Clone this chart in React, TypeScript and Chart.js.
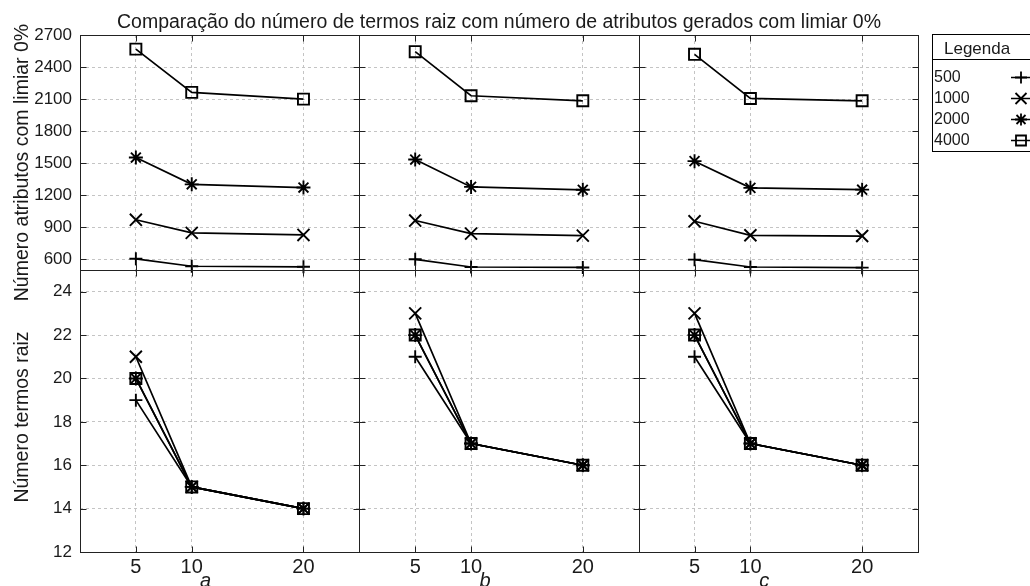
import React, { useEffect, useRef } from 'react';
import { Chart, registerables } from 'chart.js';

Chart.register(...registerables);

// ---- data ----
const xValues = [5, 10, 20];
const xTickValues = [5, 10, 20];
const seriesLabels = ['500', '1000', '2000', '4000'];
const panelLabels = ['a', 'b', 'c'];
const topTicks = [600, 900, 1200, 1500, 1800, 2100, 2400, 2700];
const bottomTicks = [12, 14, 16, 18, 20, 22, 24];

// Número atributos com limiar 0%  (top row)
const attrA500 = [605, 535, 530];
const attrA1000 = [970, 848, 828];
const attrA2000 = [1553, 1302, 1272];
const attrA4000 = [2568, 2163, 2100];

const attrB500 = [600, 528, 524];
const attrB1000 = [963, 841, 822];
const attrB2000 = [1534, 1278, 1251];
const attrB4000 = [2544, 2131, 2084];

const attrC500 = [597, 528, 522];
const attrC1000 = [956, 825, 818];
const attrC2000 = [1519, 1269, 1252];
const attrC4000 = [2519, 2106, 2084];

// Número termos raiz (bottom row)
const rootA500 = [19, 15, 14];
const rootA1000 = [21, 15, 14];
const rootA2000 = [20, 15, 14];
const rootA4000 = [20, 15, 14];

const rootB500 = [21, 17, 16];
const rootB1000 = [23, 17, 16];
const rootB2000 = [22, 17, 16];
const rootB4000 = [22, 17, 16];

const rootC500 = [21, 17, 16];
const rootC1000 = [23, 17, 16];
const rootC2000 = [22, 17, 16];
const rootC4000 = [22, 17, 16];

const titleText = 'Comparação do número de termos raiz com número de atributos gerados com limiar 0%';
const topAxisTitle = 'Número atributos com limiar 0%';
const bottomAxisTitle = 'Número termos raiz';
const legendTitle = 'Legenda';

// ---- styles ----
const FONT = '"Liberation Sans", Arial, Helvetica, sans-serif';
const INK = '#1a1a1a';
const pointStyles = ['cross', 'crossRot', 'star', 'rect'];
const pointRadii = [6.5, 8.5, 7, 7.8];

const topRows = [
  [attrA500, attrA1000, attrA2000, attrA4000],
  [attrB500, attrB1000, attrB2000, attrB4000],
  [attrC500, attrC1000, attrC2000, attrC4000],
];
const bottomRows = [
  [rootA500, rootA1000, rootA2000, rootA4000],
  [rootB500, rootB1000, rootB2000, rootB4000],
  [rootC500, rootC1000, rootC2000, rootC4000],
];
const xIds = ['xa', 'xb', 'xc'];

function buildDatasets() {
  const ds: any[] = [];
  const add = (rows: number[][][], yId: string, tag: string) => {
    rows.forEach((panel, p) => {
      panel.forEach((vals, s) => {
        ds.push({
          type: 'line',
          label: `${tag}-${panelLabels[p]}-${seriesLabels[s]}`,
          data: xValues.map((x, i) => ({ x, y: vals[i] })),
          xAxisID: xIds[p],
          yAxisID: yId,
          borderColor: '#000',
          borderWidth: 1.7,
          tension: 0,
          fill: false,
          pointStyle: pointStyles[s],
          pointRadius: pointRadii[s],
          pointBorderWidth: 1.9,
          pointBorderColor: '#000',
          pointBackgroundColor: 'rgba(0,0,0,0)',
          clip: false,
        });
      });
    });
  };
  add(topRows, 'yTop', 'attr');
  add(bottomRows, 'yBot', 'root');
  return ds;
}

function xScale(weight: number) {
  return {
    type: 'linear',
    position: 'bottom',
    stack: 'cols',
    stackWeight: 1,
    weight,
    min: 0,
    max: 25,
    afterBuildTicks: (s: any) => {
      s.ticks = xTickValues.map((v) => ({ value: v }));
    },
    afterFit: (s: any) => {
      s.height = 34;
    },
    grid: { color: '#c4c4c4', lineWidth: 1, drawTicks: false },
    border: { display: false, dash: [3, 3] },
    ticks: {
      font: { family: FONT, size: 20 },
      color: INK,
      padding: 3,
      maxRotation: 0,
      autoSkip: false,
      callback: (v: any) => String(v),
    },
  };
}

function yScale(min: number, max: number, ticks: number[], stackWeight: number, weight: number) {
  return {
    type: 'linear',
    position: 'left',
    stack: 'rows',
    stackWeight,
    weight,
    min,
    max,
    afterBuildTicks: (s: any) => {
      s.ticks = ticks.map((v) => ({ value: v }));
    },
    afterFit: (s: any) => {
      s.width = 80;
    },
    grid: { color: '#c4c4c4', lineWidth: 1, drawTicks: false },
    border: { display: false, dash: [3, 3] },
    ticks: {
      font: { family: FONT, size: 17 },
      color: INK,
      padding: 8,
      autoSkip: false,
      callback: (v: any) => String(v),
    },
  };
}

const decorPlugin = {
  id: 'decor',
  afterDraw(chart: any) {
    const ctx = chart.ctx as CanvasRenderingContext2D;
    const xs = xIds.map((id) => chart.scales[id]);
    const yTop = chart.scales.yTop;
    const yBot = chart.scales.yBot;
    const ys = [
      { s: yTop, ticks: topTicks },
      { s: yBot, ticks: bottomTicks },
    ];
    ctx.save();
    ctx.strokeStyle = '#222';
    ctx.lineWidth = 1;
    const r = (v: number) => Math.round(v) + 0.5;
    const TL = 6;
    // inner tick marks and frames
    xs.forEach((x: any) => {
      ys.forEach(({ s: y, ticks }) => {
        const L = r(x.left), R = r(x.right), T = r(y.top), B = r(y.bottom);
        ctx.beginPath();
        ticks.forEach((v) => {
          const py = r(y.getPixelForValue(v));
          ctx.moveTo(L, py); ctx.lineTo(L + TL, py);
          ctx.moveTo(R, py); ctx.lineTo(R - TL, py);
        });
        xTickValues.forEach((v) => {
          const px = r(x.getPixelForValue(v));
          ctx.moveTo(px, B); ctx.lineTo(px, B - TL);
          ctx.moveTo(px, T); ctx.lineTo(px, T + TL);
        });
        ctx.stroke();
        ctx.strokeRect(L, T, R - L, B - T);
      });
    });

    // main title
    ctx.fillStyle = INK;
    ctx.font = `19.5px ${FONT}`;
    ctx.textAlign = 'center';
    ctx.textBaseline = 'alphabetic';
    const area = chart.chartArea;
    ctx.fillText(titleText, (area.left + area.right) / 2, 28);

    // y axis titles (rotated)
    ctx.font = `19.5px ${FONT}`;
    const drawRot = (text: string, cx: number, cy: number) => {
      ctx.save();
      ctx.translate(cx, cy);
      ctx.rotate(-Math.PI / 2);
      ctx.textAlign = 'center';
      ctx.textBaseline = 'alphabetic';
      ctx.fillText(text, 0, 0);
      ctx.restore();
    };
    drawRot(topAxisTitle, 28, (yTop.top + yTop.bottom) / 2 + 10);
    drawRot(bottomAxisTitle, 28, (yBot.top + yBot.bottom) / 2 + 6);

    // panel sub-labels
    ctx.font = `italic 20px ${FONT}`;
    ctx.textAlign = 'center';
    xs.forEach((x: any, i: number) => {
      ctx.fillText(panelLabels[i], (x.left + x.right) / 2 - 14, 587);
    });

    // legend box
    const bx = 932.5, by = 34.5, bw = 120, rowH = 21;
    const firstBase = 82;
    const bh = 59 - 34 + rowH * seriesLabels.length + 8;
    ctx.fillStyle = '#fff';
    ctx.fillRect(bx, by, bw, bh);
    ctx.strokeStyle = '#000';
    ctx.lineWidth = 1;
    ctx.strokeRect(bx, by, bw, bh);
    ctx.beginPath();
    ctx.moveTo(bx, 59.5);
    ctx.lineTo(bx + bw, 59.5);
    ctx.stroke();
    ctx.fillStyle = INK;
    ctx.textAlign = 'left';
    ctx.font = `17px ${FONT}`;
    ctx.fillText(legendTitle, 944, 54);
    ctx.font = `16px ${FONT}`;
    seriesLabels.forEach((lab, i) => {
      const base = firstBase + i * rowH;
      ctx.fillStyle = INK;
      ctx.fillText(lab, 934, base);
      const cy = Math.round(base - 5) + 0.5;
      const cx = 1021;
      ctx.strokeStyle = '#000';
      ctx.lineWidth = 1.5;
      ctx.beginPath();
      ctx.moveTo(1011, cy);
      ctx.lineTo(1032, cy);
      ctx.stroke();
      ctx.lineWidth = 1.8;
      ctx.beginPath();
      const st = pointStyles[i];
      if (st === 'cross' || st === 'star') {
        const h = 6;
        ctx.moveTo(cx - h, cy); ctx.lineTo(cx + h, cy);
        ctx.moveTo(cx, cy - h); ctx.lineTo(cx, cy + h);
      }
      if (st === 'crossRot' || st === 'star') {
        const d = st === 'star' ? 4.5 : 5.5;
        ctx.moveTo(cx - d, cy - d); ctx.lineTo(cx + d, cy + d);
        ctx.moveTo(cx - d, cy + d); ctx.lineTo(cx + d, cy - d);
      }
      if (st === 'rect') {
        ctx.rect(cx - 5, cy - 5, 10, 10);
      }
      ctx.stroke();
    });
    ctx.restore();
  },
};

export default function App() {
  const ref = useRef<HTMLCanvasElement | null>(null);
  useEffect(() => {
    document.body.style.margin = '0';
    const canvas = ref.current;
    if (!canvas) return;
    const chart = new Chart(canvas, {
      type: 'line',
      data: { datasets: buildDatasets() },
      options: {
        responsive: false,
        animation: false,
        devicePixelRatio: 1,
        events: [],
        layout: { padding: { top: 35, right: 112, left: 0, bottom: 0 } },
        plugins: {
          legend: { display: false },
          title: { display: false },
          tooltip: { enabled: false },
        },
        scales: {
          xa: xScale(1),
          xb: xScale(2),
          xc: xScale(3),
          yTop: yScale(500, 2700, topTicks, 235, 2),
          yBot: yScale(12, 25, bottomTicks, 282, 1),
        } as any,
      } as any,
      plugins: [decorPlugin],
    } as any);
    return () => chart.destroy();
  }, []);
  return (
    <div style={{ width: 1030, height: 586, background: '#fff' }}>
      <canvas ref={ref} width={1030} height={586} style={{ display: 'block' }} />
    </div>
  );
}
